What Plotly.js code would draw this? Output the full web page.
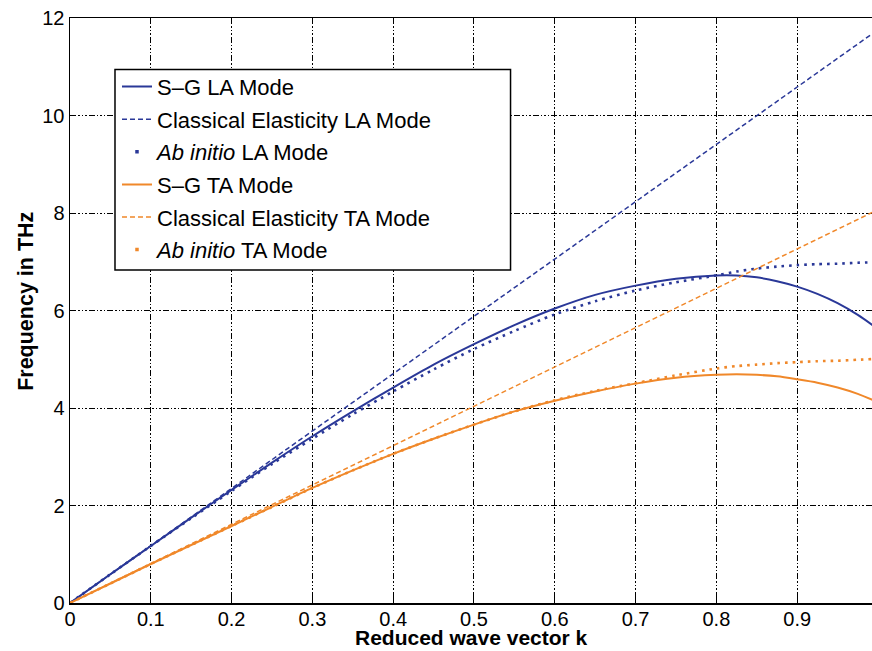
<!DOCTYPE html>
<html>
<head>
<meta charset="utf-8">
<script src="https://cdn.plot.ly/plotly-3.0.1.min.js"></script>
<style>html,body{margin:0;padding:0;background:#fff;}#chart{width:872px;height:651px;}</style>
</head>
<body>
<div id="chart"></div>
<script>
// Reduced wave vector k
const k = [0, 0.05, 0.1, 0.15, 0.2, 0.25, 0.3, 0.35, 0.4, 0.45, 0.5, 0.55, 0.6, 0.65, 0.7, 0.75, 0.8, 0.825, 0.85, 0.875, 0.9, 0.925, 0.95, 0.975, 1.0];
// Frequencies in THz
const sgLA = [0, 0.59, 1.17, 1.75, 2.32, 2.88, 3.42, 3.93, 4.42, 4.89, 5.31, 5.70, 6.04, 6.32, 6.51, 6.65, 6.72, 6.72, 6.68, 6.60, 6.49, 6.34, 6.15, 5.91, 5.62];
const abLA = [0, 0.59, 1.17, 1.74, 2.30, 2.85, 3.37, 3.87, 4.34, 4.79, 5.21, 5.58, 5.92, 6.19, 6.41, 6.58, 6.72, 6.80, 6.86, 6.90, 6.93, 6.95, 6.96, 6.98, 6.99];
const sgTA = [0, 0.40, 0.80, 1.19, 1.58, 1.97, 2.36, 2.72, 3.06, 3.37, 3.66, 3.93, 4.15, 4.34, 4.50, 4.62, 4.68, 4.69, 4.68, 4.65, 4.59, 4.52, 4.42, 4.29, 4.12];
const abTA = [0, 0.40, 0.80, 1.19, 1.58, 1.97, 2.36, 2.72, 3.06, 3.37, 3.66, 3.93, 4.16, 4.35, 4.51, 4.67, 4.81, 4.86, 4.89, 4.92, 4.94, 4.96, 4.97, 4.99, 5.01];
const ceK = [0, 1.0];
const ceLA = [0, 11.76];
const ceTA = [0, 8.07];
const yTicks = [0, 2, 4, 6, 8, 10, 12];
const xTicks = [0, 0.1, 0.2, 0.3, 0.4, 0.5, 0.6, 0.7, 0.8, 0.9];
const xTickText = ['0', '0.1', '0.2', '0.3', '0.4', '0.5', '0.6', '0.7', '0.8', '0.9'];

const BLUE = 'rgb(42,56,152)';
const ORANGE = 'rgb(240,136,42)';
const FONT = 'Liberation Sans, Arial, Helvetica, sans-serif';

const traces = [
  {x: k, y: sgLA, mode: 'lines', line: {color: BLUE, width: 2, shape: 'spline', smoothing: 0.8}, name: 'S\u2013G LA Mode', legendgroup: 'a', legendrank: 1},
  {x: ceK, y: ceLA, mode: 'lines', line: {color: BLUE, width: 1.5, dash: '5px,3px'}, name: 'Classical Elasticity LA Mode', legendgroup: 'b', legendrank: 2},
  {x: k, y: abLA, mode: 'lines', line: {color: BLUE, width: 2.6, dash: '2.6px,5px', shape: 'spline', smoothing: 0.8}, showlegend: false, legendgroup: 'c'},
  {x: [null], y: [null], mode: 'markers', marker: {color: BLUE, size: 3.5, symbol: 'square'}, name: '<i>Ab initio</i> LA Mode', legendgroup: 'c', legendrank: 3},
  {x: k, y: sgTA, mode: 'lines', line: {color: ORANGE, width: 2, shape: 'spline', smoothing: 0.8}, name: 'S\u2013G TA Mode', legendgroup: 'd', legendrank: 4},
  {x: ceK, y: ceTA, mode: 'lines', line: {color: ORANGE, width: 1.5, dash: '5px,3px'}, name: 'Classical Elasticity TA Mode', legendgroup: 'e', legendrank: 5},
  {x: k, y: abTA, mode: 'lines', line: {color: ORANGE, width: 2.6, dash: '2.6px,5px', shape: 'spline', smoothing: 0.8}, showlegend: false, legendgroup: 'f'},
  {x: [null], y: [null], mode: 'markers', marker: {color: ORANGE, size: 3.5, symbol: 'square'}, name: '<i>Ab initio</i> TA Mode', legendgroup: 'f', legendrank: 6}
];

const gridDash = '6px,2px,1.5px,2px,1.5px,2px,1.5px,2px';

const layout = {
  width: 872, height: 651,
  margin: {l: 70, r: 0, t: 18, b: 48, pad: 0},
  paper_bgcolor: '#fff', plot_bgcolor: '#fff',
  font: {family: FONT, color: '#000', size: 20},
  showlegend: true,
  xaxis: {
    range: [0, 0.9926], tickvals: xTicks, ticktext: xTickText,
    showgrid: true, gridcolor: '#000', gridwidth: 1, griddash: gridDash,
    showline: true, linecolor: '#000', linewidth: 1.5, mirror: 'ticks',
    ticks: 'inside', ticklen: 5, tickcolor: '#000', zeroline: false,
    ticklabelstandoff: -3,
    tickfont: {size: 20, family: FONT, color: '#000'}
  },
  yaxis: {
    range: [0, 12], tickvals: yTicks,
    showgrid: true, gridcolor: '#000', gridwidth: 1, griddash: gridDash,
    showline: true, linecolor: '#000', linewidth: 1.5,
    ticks: 'inside', ticklen: 5, tickcolor: '#000', zeroline: false,
    tickfont: {size: 20, family: FONT, color: '#000'}
  },
  legend: {
    x: 0.0586, y: 0.9183, xanchor: 'left', yanchor: 'top',
    bgcolor: 'rgba(0,0,0,0)', borderwidth: 0,
    font: {size: 22, family: FONT, color: '#000'},
    traceorder: 'grouped', tracegroupgap: 1
  },
  shapes: [
    {type: 'rect', xref: 'paper', yref: 'paper', x0: 0.0561, x1: 0.5493, y0: 0.5692, y1: 0.912,
     fillcolor: '#fff', line: {color: '#000', width: 1.5}, layer: 'above'}
  ],
  annotations: [
    {text: '<b>Reduced wave vector k</b>', xref: 'paper', yref: 'paper', x: 0.5006, y: -0.0821,
     xanchor: 'center', yanchor: 'bottom', showarrow: false, font: {size: 21, family: FONT, color: '#000'}},
    {text: '<b>Frequency in THz</b>', xref: 'paper', yref: 'paper', x: -0.0552, y: 0.516,
     xanchor: 'center', yanchor: 'middle', textangle: -90, showarrow: false, font: {size: 21.5, family: FONT, color: '#000'}}
  ]
};

Plotly.newPlot('chart', traces, layout, {displayModeBar: false, staticPlot: true});
</script>
</body>
</html>
